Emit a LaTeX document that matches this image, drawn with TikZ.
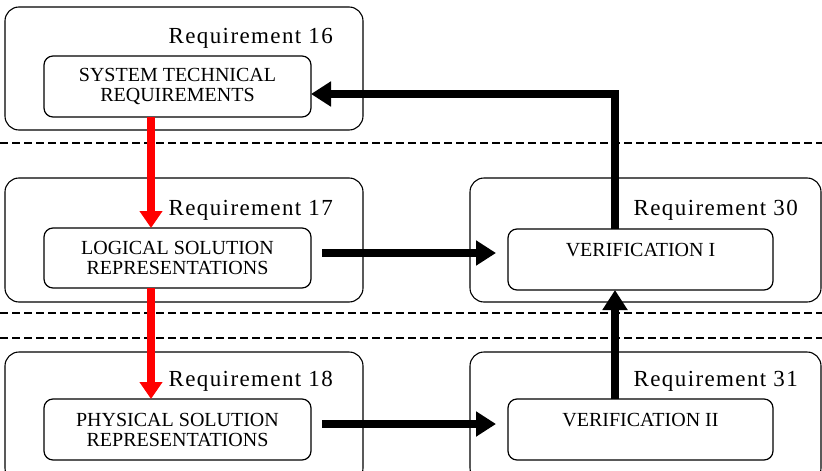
\documentclass[tikz,border=0pt]{standalone}
\usepackage{fontspec}
\setmainfont{Liberation Serif}
\newfontfamily\reqfont[LetterSpace=6]{Liberation Serif}
\usetikzlibrary{arrows.meta}

\begin{document}
\begin{tikzpicture}[x=1pt,y=-1pt,
  outerbox/.style={draw, line width=1.1pt, rounded corners=14pt,
    inner sep=0pt, outer sep=0pt},
  innerbox/.style={draw, line width=1.2pt, rounded corners=9pt,
    minimum width=267pt, minimum height=61pt, inner sep=0pt, outer sep=0pt,
    align=center, font=\fontsize{20}{20}\selectfont},
  reqlabel/.style={anchor=base east, inner sep=0pt,
    font=\reqfont\fontsize{23}{23}\selectfont},
  septhick/.style={line width=2.2pt, dash pattern=on 8pt off 4pt},
  septhin/.style={line width=1.3pt, dash pattern=on 8pt off 4pt},
  flow/.style={line width=8.5pt, -{Triangle[length=20pt,width=24pt]}},
  redflow/.style={draw=red, line width=8pt, -{Triangle[length=17pt,width=22pt]}}]

\useasboundingbox (0,0) rectangle (822,471);

% level separators
\draw[septhick] (0,143) -- (822,143);
\draw[septhick] (0,313) -- (822,313);
\draw[septhin]  (0,338) -- (822,338);

% requirement groups
\node[outerbox, minimum width=358pt, minimum height=123pt] (g16) at (184,68.5) {};
\node[outerbox, minimum width=358pt, minimum height=124pt] (g17) at (184,240) {};
\node[outerbox, minimum width=358pt, minimum height=130pt] (g18) at (184,417) {};
\node[outerbox, minimum width=351pt, minimum height=124pt] (g30) at (645.5,240) {};
\node[outerbox, minimum width=351pt, minimum height=130pt] (g31) at (645.5,417) {};

\node[reqlabel] (l16) at (333,43)  {Requirement 16};
\node[reqlabel] (l17) at (333,215) {Requirement 17};
\node[reqlabel] (l18) at (333,386) {Requirement 18};
\node[reqlabel] (l30) at (798,215) {Requirement 30};
\node[reqlabel] (l31) at (798,386) {Requirement 31};

% activities
\node[innerbox] (str) at (177.5,86.5) {SYSTEM TECHNICAL\\REQUIREMENTS};
\node[innerbox, minimum height=60pt] (lsr) at (177.5,258) {LOGICAL SOLUTION\\REPRESENTATIONS};
\node[innerbox] (psr) at (177.5,429.5) {PHYSICAL SOLUTION\\REPRESENTATIONS};
\node[innerbox, minimum width=265pt] (v1) at (640.5,259.5) {VERIFICATION I\\\mbox{}};
\node[innerbox, minimum width=265pt] (v2) at (640.5,429.5) {VERIFICATION II\\\mbox{}};

% decomposition flow
\draw[redflow] ([xshift=-26.5pt]str.south) -- ([xshift=-26.5pt]lsr.north);
\draw[redflow] ([xshift=-26.5pt]lsr.south) -- ([xshift=-26.5pt]psr.north);

% verification flow
\draw[flow, shorten <=11pt, shorten >=12pt]
  ([yshift=5pt]lsr.east) -- ([yshift=5pt]lsr.east -| v1.west);
\draw[flow, shorten <=11pt, shorten >=12pt]
  ([yshift=5.5pt]psr.east) -- ([yshift=5.5pt]psr.east -| v2.west);
\draw[flow] ([xshift=-25.5pt]v2.north) -- ([xshift=-25.5pt]v1.south);
\draw[flow] ([xshift=-25.5pt]v1.north) |- ([yshift=-7.5pt]str.east);

\end{tikzpicture}
\end{document}
